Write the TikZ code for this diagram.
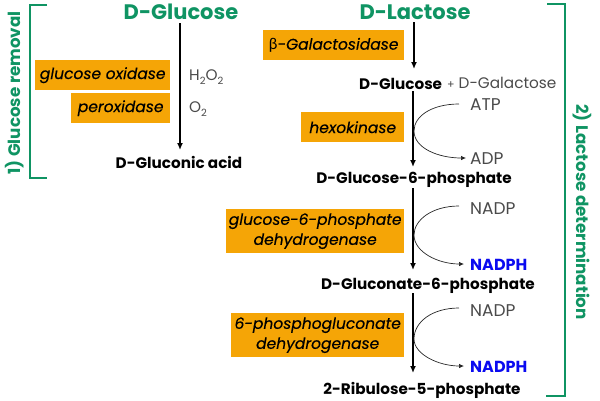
\documentclass[tikz,border=0pt]{standalone}
\usepackage{fontspec}
\setmainfont{Poppins}
\newfontfamily\enzfont[ItalicFeatures={FakeBold=0.25}]{Poppins}
\newfontfamily\greekfont{Lato}
\definecolor{grn}{HTML}{0F9463}
\definecolor{org}{HTML}{F5A506}
\definecolor{gry}{HTML}{4A4A4A}
\definecolor{blu}{HTML}{0A0AF0}
\newcommand{\subs}[1]{\raisebox{-3.5pt}{\fontsize{10}{10}\selectfont #1}}
\tikzset{
  x=1pt,y=-1pt,
  title/.style={text=grn,font=\fontsize{21}{24}\selectfont\bfseries,inner sep=0pt},
  chem/.style={text=black,font=\fontsize{15.2}{18}\selectfont\bfseries,inner sep=0pt,yshift=-1.5pt},
  minor/.style={text=gry,font=\fontsize{15.3}{18}\selectfont,inner sep=0pt,anchor=west,yshift=-1pt},
  capsmin/.style={minor,font=\fontsize{17}{18}\selectfont},
  nadph/.style={text=blu,font=\fontsize{16}{18}\selectfont\bfseries,inner sep=0pt,anchor=west,yshift=-1pt},
  side/.style={text=grn,font=\fontsize{16.7}{20}\selectfont\bfseries,inner sep=0pt},
  enz/.style={fill=org,draw=none,font=\fontsize{15.5}{20}\selectfont\enzfont\itshape,align=center,inner sep=0pt,anchor=north west},
  bracket/.style={draw=grn,line width=1.2pt},
  main/.style={draw=black,line width=1.4pt,-{Latex[length=7pt,width=6pt]}},
  cof/.style={draw=black!85,line width=0.7pt},
  cofarr/.style={cof,-{Latex[length=5pt,width=4.5pt]}},
}
\usetikzlibrary{arrows.meta}
\begin{document}
\begin{tikzpicture}
\useasboundingbox (0,0) rectangle (600,400);
% brackets
\coordinate (bla) at (47,5); \coordinate (blb) at (30,5); \coordinate (blc) at (30,178); \coordinate (bld) at (47,178);
\draw[bracket] (bla) -- (blb) -- (blc) -- (bld);
\coordinate (bra) at (547,4); \coordinate (brb) at (565,4); \coordinate (brc) at (565,396); \coordinate (brd) at (546,396);
\draw[bracket] (bra) -- (brb) -- (brc) -- (brd);
\node[side,rotate=90] (s1) at (15,93) {1) Glucose removal};
\node[side,rotate=-90] (s2) at (582,212) {2) Lactose determination};
% enzyme boxes
\node[enz,minimum width=135pt,minimum height=30pt] (e1) at (35,60) {glucose oxidase};
\node[enz,minimum width=99pt,minimum height=30pt] (e2) at (71,93) {peroxidase};
\node[enz,minimum width=141pt,minimum height=30pt] (e3) at (263,30) {{\greekfont\upshape β}-Galactosidase};
\node[enz,minimum width=103pt,minimum height=30pt] (e4) at (301,112) {hexokinase};
\node[enz,minimum width=178pt,minimum height=44pt] (e5) at (226,209) {glucose-6-phosphate\\dehydrogenase};
\node[enz,minimum width=173pt,minimum height=44pt] (e6) at (231,313) {6-phosphogluconate\\dehydrogenase};
% metabolites
\node[title] (glc) at (181,12) {D-Glucose};
\node[title] (lac) at (415,12) {D-Lactose};
\node[chem] (acid) at (179,161) {D-Gluconic acid};
\node[chem,anchor=west] (g2) at (359,82) {D-Glucose};
\node[minor,text=gry] (gal) at (447,82) {{\fontsize{11}{11}\selectfont +}\hspace{4pt}D-Galactose};
\node[chem] (g6p) at (414,178) {D-Glucose-6-phosphate};
\node[chem] (gn6p) at (428,284) {D-Gluconate-6-phosphate};
\node[chem] (r5p) at (422,389) {2-Ribulose-5-phosphate};
% cofactors
\node[minor] (h2o2) at (189,76) {H\subs{2}O\subs{2}};
\node[minor] (o2) at (189,108) {O\subs{2}};
\node[capsmin] (atp) at (470,104) {ATP};
\node[capsmin] (adp) at (470,158) {ADP};
\node[capsmin] (nadp1) at (470,208) {NADP};
\node[nadph] (nadph1) at (470,264) {NADPH};
\node[capsmin] (nadp2) at (470,310) {NADP};
\node[nadph] (nadph2) at (470,366) {NADPH};
% main arrows
\coordinate (a1s) at (180,23); \coordinate (a1e) at (180,150);
\draw[main] (a1s) -- (a1e);
\coordinate (a2s) at (414,22); \coordinate (a2e) at (414,69);
\draw[main] (a2s) -- (a2e);
\coordinate (a3s) at (413,91); \coordinate (a3e) at (413,167);
\draw[main] (a3s) -- (a3e);
\coordinate (a4s) at (413,188); \coordinate (a4e) at (413,270);
\draw[main] (a4s) -- (a4e);
\coordinate (a5s) at (413,293); \coordinate (a5e) at (413,373);
\draw[main] (a5s) -- (a5e);
% cofactor curves
\coordinate (c1) at (414,131); \coordinate (c2) at (414,235); \coordinate (c3) at (414,339);
\draw[cof] ([xshift=-11pt,yshift=1pt]atp.west) .. controls (432,104) and (414,116) .. (c1);
\draw[cofarr] (c1) .. controls (414,148) and (438,158) .. ([xshift=-4pt,yshift=1pt]adp.west);
\draw[cof] ([xshift=-11pt,yshift=3pt]nadp1.west) .. controls (432,206) and (414,220) .. (c2);
\draw[cofarr] (c2) .. controls (414,252) and (438,264) .. ([xshift=-6pt,yshift=1pt]nadph1.west);
\draw[cof] ([xshift=-11pt,yshift=3pt]nadp2.west) .. controls (432,308) and (414,322) .. (c3);
\draw[cofarr] (c3) .. controls (414,354) and (438,366) .. ([xshift=-6pt,yshift=1pt]nadph2.west);
\end{tikzpicture}
\end{document}
